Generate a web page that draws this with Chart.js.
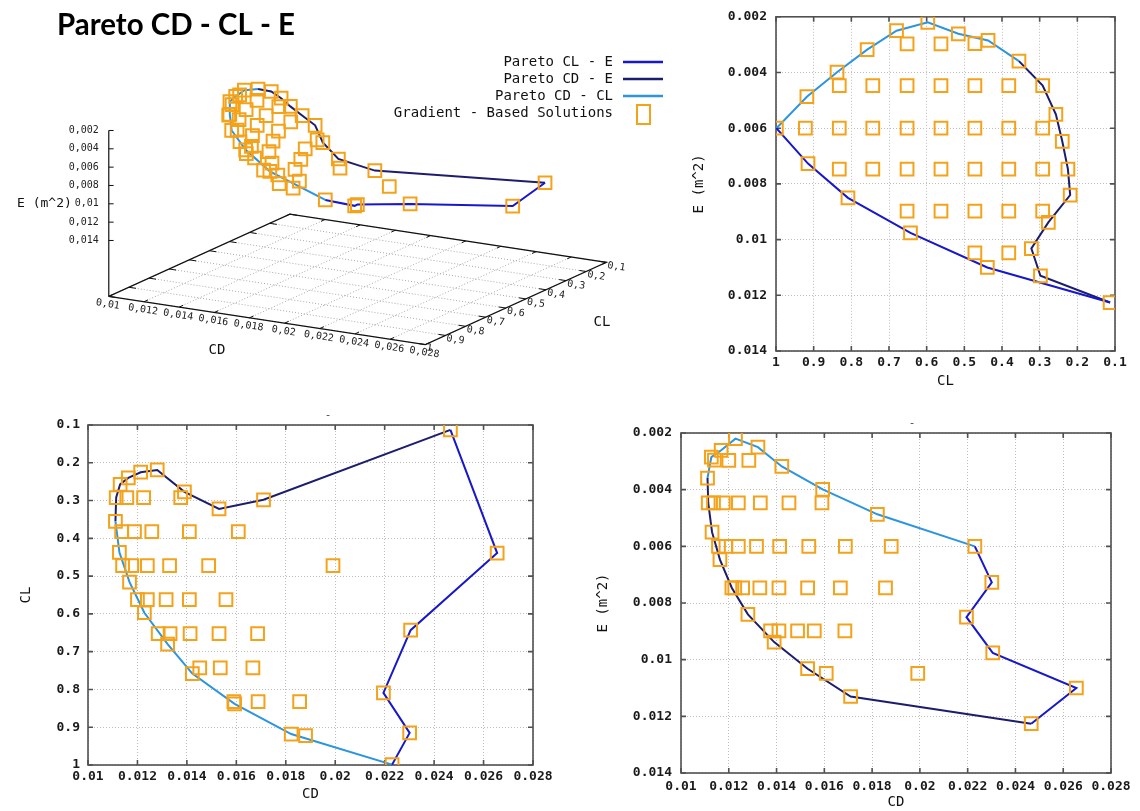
<!DOCTYPE html>
<html>
<head>
<meta charset="utf-8">
<title>Pareto CD - CL - E</title>
<script src="https://cdn.jsdelivr.net/npm/chart.js@4.4.1/dist/chart.umd.min.js"></script>
<style>
  html, body { margin: 0; padding: 0; background: #fff; }
  #stage { position: relative; width: 1140px; height: 811px; overflow: hidden; background: #fff; }
  #stage canvas { position: absolute; }
</style>
</head>
<body>
<div id="stage">
  <canvas id="c3d"   width="690" height="400" style="left:0;top:0;width:690px;height:400px"></canvas>
  <canvas id="cCLE"  width="454" height="400" style="left:686px;top:0;width:454px;height:400px"></canvas>
  <canvas id="cCDCL" width="580" height="411" style="left:0;top:400px;width:580px;height:411px"></canvas>
  <canvas id="cCDE"  width="560" height="411" style="left:580px;top:400px;width:560px;height:411px"></canvas>
</div>
<script>
// ---- data: every point is [CD, CL, E (m^2)] ----
const chartTitle = 'Pareto CD - CL - E';

const cdTicks = [0.01, 0.012, 0.014, 0.016, 0.018, 0.02, 0.022, 0.024, 0.026, 0.028];
const clTicks = [0.1, 0.2, 0.3, 0.4, 0.5, 0.6, 0.7, 0.8, 0.9, 1];
const eTicks  = [0.002, 0.004, 0.006, 0.008, 0.01, 0.012, 0.014];

const paretoCL_E = [
  [0.0223, 0.999, 0.0060],
  [0.02301, 0.915, 0.00727],
  [0.02195, 0.809, 0.0085],
  [0.02305, 0.643, 0.00976],
  [0.02655, 0.439, 0.0110],
  [0.02466, 0.113, 0.01226]
];

const paretoCD_E = [
  [0.02466, 0.113, 0.01226],
  [0.0171, 0.298, 0.0113],
  [0.0153, 0.322, 0.01032],
  [0.0139, 0.277, 0.00938],
  [0.0128, 0.219, 0.0084],
  [0.01213, 0.225, 0.00747],
  [0.01163, 0.240, 0.00647],
  [0.0113, 0.257, 0.0055],
  [0.01114, 0.292, 0.00447],
  [0.01111, 0.355, 0.00359]
];

const paretoCD_CL = [
  [0.01111, 0.355, 0.00359],
  [0.01127, 0.437, 0.00285],
  [0.01168, 0.516, 0.00261],
  [0.01228, 0.597, 0.0022],
  [0.01322, 0.680, 0.0025],
  [0.01422, 0.758, 0.00318],
  [0.01593, 0.838, 0.00399],
  [0.01822, 0.918, 0.00487],
  [0.0223, 0.999, 0.0060]
];

const gradientSolutions = [
  [0.02466, 0.113, 0.01226], [0.02655, 0.439, 0.0110], [0.02305, 0.643, 0.00976],
  [0.02195, 0.809, 0.0085], [0.02301, 0.915, 0.00727], [0.0223, 0.999, 0.0060],
  [0.0171, 0.298, 0.0113], [0.0153, 0.322, 0.01032], [0.0139, 0.277, 0.00938],
  [0.0128, 0.219, 0.0084], [0.01213, 0.225, 0.00747], [0.01163, 0.240, 0.00647],
  [0.0113, 0.257, 0.0055], [0.01114, 0.292, 0.00447], [0.01111, 0.355, 0.00359],
  [0.01127, 0.437, 0.00285], [0.0114, 0.472, 0.00296], [0.01168, 0.516, 0.00261],
  [0.01228, 0.597, 0.0022], [0.01322, 0.680, 0.0025], [0.01422, 0.758, 0.00318],
  [0.01593, 0.838, 0.00399], [0.01822, 0.918, 0.00487],
  [0.01157, 0.292, 0.006], [0.01225, 0.292, 0.00747], [0.01375, 0.292, 0.00898],
  [0.01136, 0.382, 0.00447], [0.01188, 0.382, 0.006], [0.01258, 0.382, 0.00747],
  [0.0141, 0.382, 0.00898], [0.01608, 0.382, 0.01048],
  [0.01177, 0.472, 0.00447], [0.0124, 0.472, 0.006], [0.0133, 0.472, 0.00747],
  [0.01488, 0.472, 0.00898], [0.01991, 0.472, 0.01048],
  [0.012, 0.562, 0.00297], [0.0124, 0.562, 0.00447], [0.01316, 0.562, 0.006],
  [0.0141, 0.562, 0.00747], [0.01558, 0.562, 0.00898],
  [0.01284, 0.652, 0.00297], [0.01332, 0.652, 0.00447], [0.01413, 0.652, 0.006],
  [0.0153, 0.652, 0.00747], [0.01686, 0.652, 0.00898],
  [0.01452, 0.743, 0.00447], [0.01535, 0.743, 0.006], [0.01667, 0.743, 0.00747],
  [0.0159, 0.832, 0.00447], [0.01688, 0.832, 0.006], [0.01856, 0.832, 0.00747],
  [0.0188, 0.922, 0.006]
];

// ---- styling ----
const BLUE = '#1717cc', NAVY = '#1d1d6e', SKY = '#2b95e0', ORANGE = '#f5a21b';
const MONO = '"DejaVu Sans Mono", monospace';
const fmt = v => String(+(+v).toFixed(4));
const comma = v => fmt(v).replace('.', ',');

// ---- frame, inward ticks and small header mark for the 2D panels ----
const framePlugin = {
  id: 'frame',
  beforeDatasetsDraw(chart, args, opts) {
    const { ctx, chartArea: a, scales: { x, y } } = chart;
    ctx.save();
    ctx.strokeStyle = '#505050';
    ctx.lineWidth = 1.6;
    ctx.strokeRect(a.left, a.top, a.right - a.left, a.bottom - a.top);
    ctx.beginPath();
    x.ticks.forEach(t => {
      const px = x.getPixelForValue(t.value);
      ctx.moveTo(px, a.bottom); ctx.lineTo(px, a.bottom - 5);
      ctx.moveTo(px, a.top); ctx.lineTo(px, a.top + 5);
    });
    y.ticks.forEach(t => {
      const py = y.getPixelForValue(t.value);
      ctx.moveTo(a.left, py); ctx.lineTo(a.left + 5, py);
      ctx.moveTo(a.right, py); ctx.lineTo(a.right - 5, py);
    });
    ctx.stroke();
    if (opts && opts.mark) {
      ctx.fillStyle = '#444';
      ctx.font = '11px ' + MONO;
      ctx.textAlign = 'center';
      ctx.textBaseline = 'middle';
      ctx.fillText('-', opts.mark.x, opts.mark.y);
    }
    ctx.restore();
  }
};

function axisOptions(a, dir) {
  return {
    type: 'linear',
    min: a.min, max: a.max, reverse: !!a.reverse,
    afterBuildTicks: s => { s.ticks = a.ticks.map(v => ({ value: v })); },
    afterFit: s => { if (dir === 'x') s.height = a.size; else s.width = a.size; },
    ticks: {
      padding: a.tickPad, autoSkip: false, maxRotation: 0, minRotation: 0,
      color: '#1a1a1a', font: { family: MONO, size: 13, weight: 'bold' },
      callback: v => fmt(v)
    },
    grid: { color: '#bdbdbd', lineWidth: 1, drawTicks: false },
    border: { display: false, dash: [1, 2] },
    title: {
      display: true, text: a.title, color: '#111',
      font: { family: MONO, size: 14 }, padding: a.titlePad
    }
  };
}

function planarChart(id, spec) {
  const pick = p => ({ x: p[spec.xi], y: p[spec.yi] });
  const curve = (pts, color) => ({
    data: pts.map(pick), showLine: true, borderColor: color, borderWidth: 2,
    pointRadius: 0, tension: 0, fill: false, order: 2
  });
  return new Chart(document.getElementById(id), {
    type: 'scatter',
    data: {
      datasets: [
        curve(paretoCL_E, BLUE),
        curve(paretoCD_E, NAVY),
        curve(paretoCD_CL, SKY),
        {
          data: gradientSolutions.map(pick), showLine: false, order: 1,
          pointStyle: 'rect', pointRadius: 9, pointBorderWidth: 2,
          pointBorderColor: ORANGE, pointBackgroundColor: 'rgba(0,0,0,0)'
        }
      ]
    },
    options: {
      responsive: false, animation: false, devicePixelRatio: 1,
      layout: { padding: spec.padding },
      plugins: { legend: { display: false }, tooltip: { enabled: false }, frame: { mark: spec.mark } },
      scales: { x: axisOptions(spec.x, 'x'), y: axisOptions(spec.y, 'y') }
    },
    plugins: [framePlugin]
  });
}

// CL against E
planarChart('cCLE', {
  xi: 1, yi: 2,
  padding: { left: 0, top: 11, right: 25, bottom: 0 },
  x: { min: 0.1, max: 1, reverse: true, ticks: clTicks, size: 49, tickPad: 4, title: 'CL', titlePad: { top: 0, bottom: 10 } },
  y: { min: 0.002, max: 0.014, reverse: true, ticks: eTicks, size: 90, tickPad: 9, title: 'E (m^2)', titlePad: { top: 5, bottom: 0 } }
});

// CD against CL
planarChart('cCDCL', {
  xi: 0, yi: 1,
  padding: { left: 0, top: 25, right: 47, bottom: 0 },
  mark: { x: 328, y: 15 },
  x: { min: 0.01, max: 0.028, ticks: cdTicks, size: 46, tickPad: 4, title: 'CD', titlePad: { top: 0, bottom: 8 } },
  y: { min: 0.1, max: 1, reverse: true, ticks: clTicks, size: 88, tickPad: 8, title: 'CL', titlePad: { top: 18, bottom: 0 } }
});

// CD against E
planarChart('cCDE', {
  xi: 0, yi: 2,
  padding: { left: 0, top: 33, right: 29, bottom: 0 },
  mark: { x: 332, y: 23 },
  x: { min: 0.01, max: 0.028, ticks: cdTicks, size: 38, tickPad: 6, title: 'CD', titlePad: { top: 0, bottom: 0 } },
  y: { min: 0.002, max: 0.014, reverse: true, ticks: eTicks, size: 101, tickPad: 9, title: 'E (m^2)', titlePad: { top: 15, bottom: 0 } }
});

// ---- 3D view: orthographic projection onto a pixel-space scatter chart ----
const W3 = 690, H3 = 400;
const view = { ox: 101, oy: 302, cd: [327, 51], cl: [187, -87], ePx: 9700, eFloor: 0.0201 };
const cdMin = cdTicks[0], cdMax = cdTicks[cdTicks.length - 1];
const clMin = clTicks[0], clMax = clTicks[clTicks.length - 1];

function project(cd, cl, e) {
  const u = (cd - cdMin) / (cdMax - cdMin);
  const v = (clMax - cl) / (clMax - clMin);
  return {
    x: view.ox + u * view.cd[0] + v * view.cl[0],
    y: view.oy + u * view.cd[1] + v * view.cl[1] - (view.eFloor - e) * view.ePx
  };
}
const floorPt = (cd, cl) => project(cd, cl, view.eFloor);
const GAP = { x: null, y: null };
const segments = list => list.flatMap(([a, b]) => [a, b, GAP]);

const floorGrid = segments([
  ...cdTicks.map(cd => [floorPt(cd, clMax), floorPt(cd, clMin)]),
  ...clTicks.map(cl => [floorPt(cdMin, cl), floorPt(cdMax, cl)])
]);
const floorFrame = [floorPt(cdMin, clMax), floorPt(cdMax, clMax), floorPt(cdMax, clMin), floorPt(cdMin, clMin), floorPt(cdMin, clMax)];
const eAxisLine = [project(cdMin, clMax, eTicks[0]), floorPt(cdMin, clMax)];
const tickMarks = segments([
  ...eTicks.map(e => { const p = project(cdMin, clMax, e); return [p, { x: p.x + 5, y: p.y }]; }),
  ...cdTicks.map(cd => [floorPt(cd, clMax), floorPt(cd, clMax - 0.02)]),
  ...cdTicks.map(cd => [floorPt(cd, clMin), floorPt(cd, clMin + 0.02)]),
  ...clTicks.map(cl => [floorPt(cdMax, cl), floorPt(cdMax - 0.0004, cl)]),
  ...clTicks.map(cl => [floorPt(cdMin, cl), floorPt(cdMin + 0.0004, cl)])
]);
const proj3 = pts => pts.map(p => project(p[0], p[1], p[2]));

const guide = (data, color, width, dash, order) => ({
  data, showLine: true, borderColor: color, borderWidth: width, borderDash: dash,
  pointRadius: 0, tension: 0, fill: false, spanGaps: false, order
});

const labels3d = {
  id: 'labels3d',
  afterDraw(chart) {
    const { ctx, scales: { x: sx, y: sy } } = chart;
    const at = p => ({ x: sx.getPixelForValue(p.x), y: sy.getPixelForValue(p.y) });
    const ang = Math.atan2(view.cd[1], view.cd[0]);
    ctx.save();

    // heading, fitted to its 238px slot
    ctx.fillStyle = '#000';
    ctx.font = 'bold 31px Lato, sans-serif';
    ctx.textAlign = 'left'; ctx.textBaseline = 'alphabetic';
    const tw = ctx.measureText(chartTitle).width;
    ctx.save();
    ctx.translate(57, 35);
    ctx.scale(Math.min(1, 238 / tw), 1);
    ctx.fillText(chartTitle, 0, 0);
    ctx.restore();

    ctx.fillStyle = '#222';
    ctx.font = '10px ' + MONO;
    ctx.textAlign = 'right'; ctx.textBaseline = 'middle';
    eTicks.forEach(e => { const p = at(project(cdMin, clMax, e)); ctx.fillText(comma(e), p.x - 10, p.y); });

    cdTicks.forEach(cd => {
      const p = at(floorPt(cd, clMax));
      ctx.save(); ctx.translate(p.x - 1, p.y + 8); ctx.rotate(ang);
      ctx.textAlign = 'center'; ctx.fillText(comma(cd), 0, 0); ctx.restore();
    });
    clTicks.forEach(cl => {
      const p = at(floorPt(cdMax, cl));
      ctx.save(); ctx.translate(p.x + 1, p.y + 3); ctx.rotate(ang);
      ctx.textAlign = 'left'; ctx.fillText(comma(cl), 0, 0); ctx.restore();
    });

    ctx.fillStyle = '#111';
    ctx.font = '13px ' + MONO;
    ctx.textAlign = 'right';
    const eMid = at(project(cdMin, clMax, 0.01));
    ctx.fillText('E (m^2)', eMid.x - 37, eMid.y);
    ctx.font = '14px ' + MONO;
    ctx.textAlign = 'center';
    ctx.fillText('CD', 217, 350);
    ctx.fillText('CL', 602, 322);

    // legend
    const rows = chart.data.datasets.filter(d => d.legendText);
    ctx.font = '14px ' + MONO;
    rows.forEach((d, i) => {
      const y = 62 + i * 17;
      ctx.fillStyle = '#111'; ctx.textAlign = 'right';
      ctx.fillText(d.legendText, 613, y);
      if (d.showLine) {
        ctx.strokeStyle = d.borderColor; ctx.lineWidth = 2.5;
        ctx.beginPath(); ctx.moveTo(623, y); ctx.lineTo(663, y); ctx.stroke();
      } else {
        ctx.strokeStyle = d.pointBorderColor; ctx.lineWidth = 2;
        ctx.strokeRect(637, y - 8, 13, 19);
      }
    });
    ctx.restore();
  }
};

new Chart(document.getElementById('c3d'), {
  type: 'scatter',
  data: {
    datasets: [
      { ...guide(proj3(paretoCL_E), BLUE, 2, [], 2), legendText: 'Pareto CL - E' },
      { ...guide(proj3(paretoCD_E), NAVY, 2, [], 2), legendText: 'Pareto CD - E' },
      { ...guide(proj3(paretoCD_CL), SKY, 2, [], 2), legendText: 'Pareto CD - CL' },
      {
        data: proj3(gradientSolutions), showLine: false, order: 1,
        pointStyle: 'rect', pointRadius: 9, pointBorderWidth: 2,
        pointBorderColor: ORANGE, pointBackgroundColor: 'rgba(0,0,0,0)',
        legendText: 'Gradient - Based Solutions'
      },
      guide(floorGrid, '#a8a8a8', 1, [1, 2], 10),
      guide(floorFrame, '#111', 1.2, [], 9),
      guide(eAxisLine, '#111', 1.2, [], 9),
      guide(tickMarks, '#111', 1, [], 9)
    ]
  },
  options: {
    responsive: false, animation: false, devicePixelRatio: 1,
    layout: { padding: 0 },
    clip: false,
    plugins: { legend: { display: false }, tooltip: { enabled: false } },
    scales: {
      x: { type: 'linear', min: 0, max: W3, display: false },
      y: { type: 'linear', min: 0, max: H3, reverse: true, display: false }
    }
  },
  plugins: [labels3d]
});
</script>
</body>
</html>
